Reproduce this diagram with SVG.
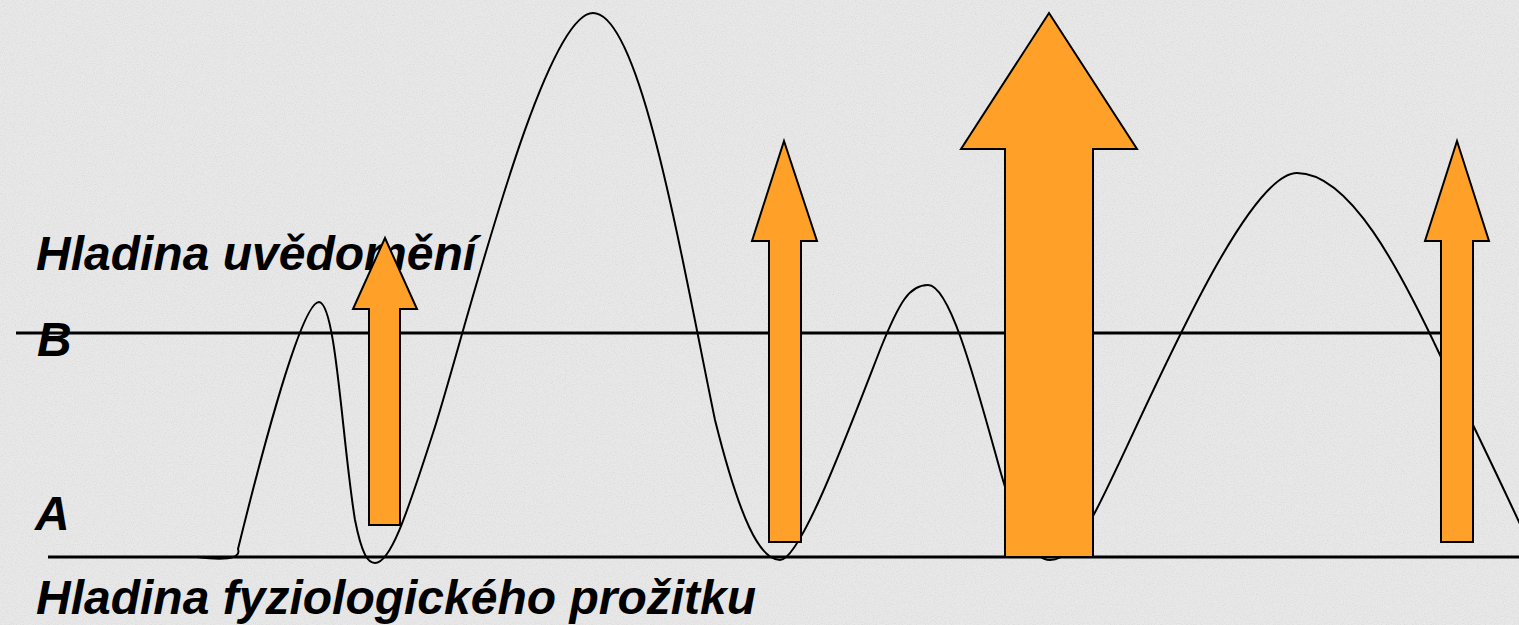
<svg xmlns="http://www.w3.org/2000/svg" width="1519" height="625" viewBox="0 0 1519 625">
  <style>
    .lbl { font-family: "Liberation Sans", Arial, sans-serif; font-weight: bold; font-style: italic; font-size: 48px; fill: #000; }
    .lvl { stroke: #000; stroke-width: 3; fill: none; }
    .wave { stroke: #000; stroke-width: 2; fill: none; }
    .arr { fill: #FFA028; stroke: #000; stroke-width: 2; stroke-linejoin: miter; }
  </style>
  <defs>
    <filter id="grain" x="0" y="0" width="100%" height="100%">
      <feTurbulence type="fractalNoise" baseFrequency="0.9" numOctaves="2" seed="3" result="n"/>
      <feColorMatrix type="matrix" values="0 0 0 0 0.55  0 0 0 0 0.55  0 0 0 0 0.55  0 0 0 -2.2 1.25" in="n" result="g"/>
      <feComposite in="g" in2="SourceGraphic" operator="in"/>
    </filter>
  </defs>
  <rect id="background" x="0" y="0" width="1519" height="625" fill="#e8e8e8"/>
  <rect x="0" y="0" width="1519" height="625" fill="#e8e8e8" filter="url(#grain)" opacity="0.35"/>

  <g id="labels">
    <text id="label-uvedomeni" class="lbl" x="36" y="270">Hladina uvědomění</text>
    <text id="label-B" class="lbl" x="37" y="356">B</text>
    <text id="label-A" class="lbl" x="35" y="530">A</text>
    <text id="label-fyzio" class="lbl" x="36" y="614">Hladina fyziologického prožitku</text>
  </g>

  <g id="connectors">
    <line id="level-B" class="lvl" x1="16" y1="333" x2="1442" y2="333"/>
    <line id="level-A" class="lvl" x1="48" y1="557" x2="1519" y2="557"/>
    <path id="wave" class="wave" d="M197,557 C220,560 242,560 238,549 C255,480 300,302 319,302 C336,303 342,440 355,520 C362,555 368,563 375,563 C390,563 405,520 433,433 C462,345 542,13 593,13 C640,13 680,250 715,420 C740,520 760,560 780,560 C800,560 845,440 880,350 C900,300 910,285 928,285 C950,285 975,380 1000,470 C1020,540 1035,560 1050,560 C1070,560 1080,535 1093,516 C1130,450 1240,173 1297,173 C1350,173 1400,270 1440,355 C1470,420 1500,480 1525,535"/>
  </g>

  <g id="arrow-1">
    <polygon class="arr" points="385,238 417,309 400,309 400,525 369,525 369,309 353,309"/>
  </g>
  <g id="arrow-2">
    <polygon class="arr" points="784,141 817,241 801,241 801,542 769,542 769,241 752,241"/>
  </g>
  <g id="arrow-3">
    <polygon class="arr" points="1049,13 1137,149 1093,149 1093,557 1005,557 1005,149 961,149"/>
  </g>
  <g id="arrow-4">
    <polygon class="arr" points="1457,141 1489,241 1473,241 1473,542 1441,542 1441,241 1425,241"/>
  </g>
</svg>
